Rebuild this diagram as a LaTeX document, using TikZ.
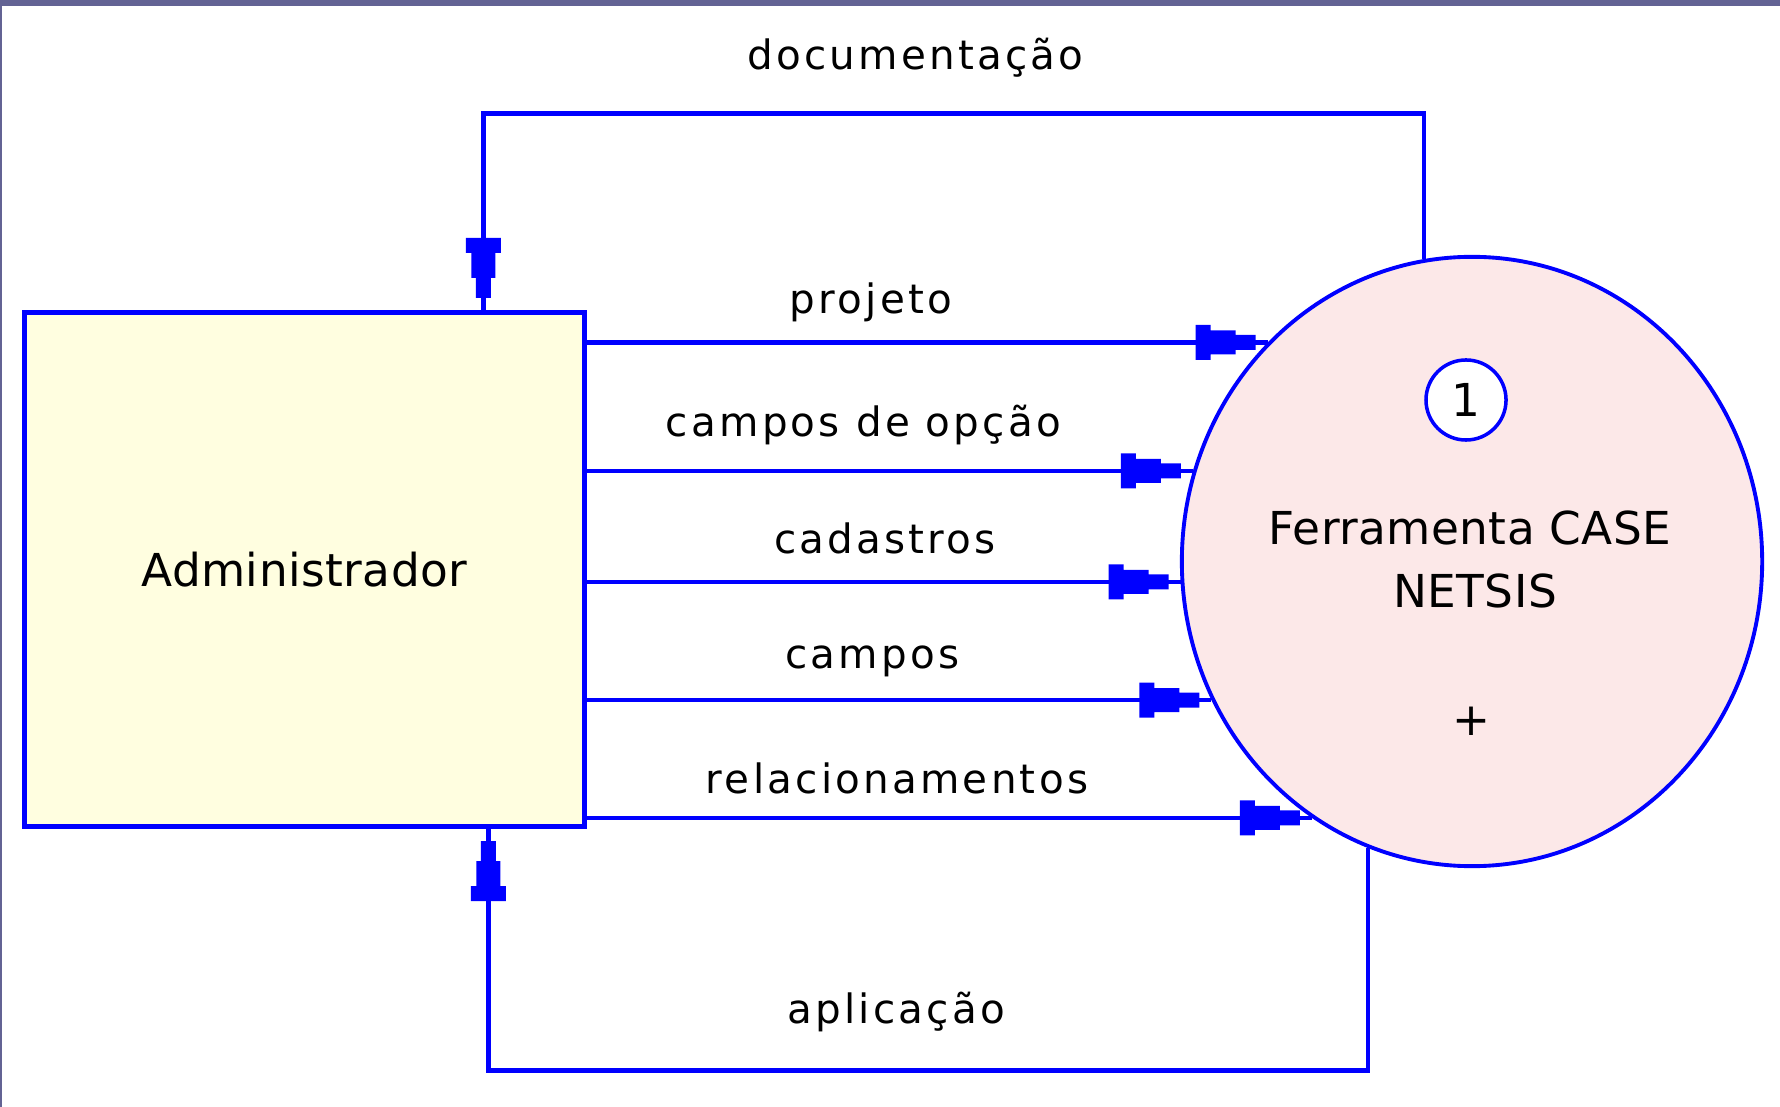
\documentclass[tikz,border=0pt]{standalone}
\usepackage{fontspec}
\setmainfont{DejaVu Sans}
\newfontfamily\lblfont[LetterSpace=8]{DejaVu Sans}
\newfontfamily\boxfont[LetterSpace=1]{DejaVu Sans}
\usetikzlibrary{decorations.markings,shapes.geometric}
\definecolor{flowblue}{HTML}{0000FF}
\definecolor{entyellow}{HTML}{FFFEE0}
\definecolor{procpink}{HTML}{FCE8E8}
\definecolor{framegrey}{HTML}{636394}

\begin{document}
\begin{tikzpicture}[x=0.01cm, y=-0.01cm,
    flow/.style={draw=flowblue, line width=1.3pt, postaction={decorate},
      decoration={markings, mark=at position -1.2mm with {\fill [flowblue] (0,-7.5) -- (0,7.5)
        -- (-20,7.5) -- (-20,12) -- (-45,12) -- (-45,17.5) -- (-60,17.5) -- (-60,-17.5)
        -- (-45,-17.5) -- (-45,-12) -- (-20,-12) -- (-20,-7.5) -- cycle;}}},
    entity/.style={rectangle, draw=flowblue, line width=1.4pt, fill=entyellow, inner sep=0pt,
      minimum width=5.595cm, minimum height=5.14cm, font=\boxfont\fontsize{12.9}{16}\selectfont},
    process/.style={ellipse, draw=flowblue, line width=1.1pt, fill=procpink, inner sep=0pt,
      minimum width=5.8cm, minimum height=6.09cm},
    lbl/.style={anchor=base, inner sep=0pt, font=\lblfont\fontsize{11.5}{14}\selectfont},
    big/.style={anchor=base, inner sep=0pt, font=\boxfont\fontsize{12.9}{16}\selectfont}]
    \useasboundingbox (0,0) rectangle (1780,1107);
    \fill [white] (0,0) rectangle (1780,1107);
    \fill [framegrey] (0,0) rectangle (1780,6);
    \fill [framegrey] (0,0) rectangle (2,1107);

    \node [entity] (adm) at (304.25,569.5) {Administrador};
    \node [process] (circ) at (1472,561.5) {};
    \node [circle, draw=flowblue, line width=1pt, fill=white, minimum size=0.8cm, inner sep=0pt,
      font=\boxfont\fontsize{12.9}{16}\selectfont] (num) at (1466,400) {1};
    \node [big] (ptop) at (1470,545) {Ferramenta CASE};
    \node [big] (pbot) at (1475,608) {NETSIS};
    \node [big, anchor=center] (plus) at (1471,721) {+};

    \foreach \ang/\lx/\ly/\txt [count=\i] in {133.8/871/314/projeto,
        162.1/863.5/437/campos de opção, 184.8/885/554/cadastros,
        208.4/872.5/668/campos, 238.0/897/793/relacionamentos} {
      \draw [flow] (adm.east |- circ.\ang) -- (circ.\ang);
      \node [lbl] (lab\i) at (\lx,\ly) {\txt};
    }

    \coordinate (doctop) at (0,113.5);
    \coordinate (docin) at ([xshift=1.79cm]adm.north);
    \draw [flow] (circ.99.8) |- (docin |- doctop) -- (docin);
    \node [lbl] (ldoc) at (915.5,70) {documentação};

    \coordinate (appbot) at (0,1070.5);
    \coordinate (appin) at ([xshift=1.84cm]adm.south);
    \draw [flow] (circ.250.5) |- (appin |- appbot) -- (appin);
    \node [lbl] (lapp) at (896,1023) {aplicação};
\end{tikzpicture}
\end{document}
